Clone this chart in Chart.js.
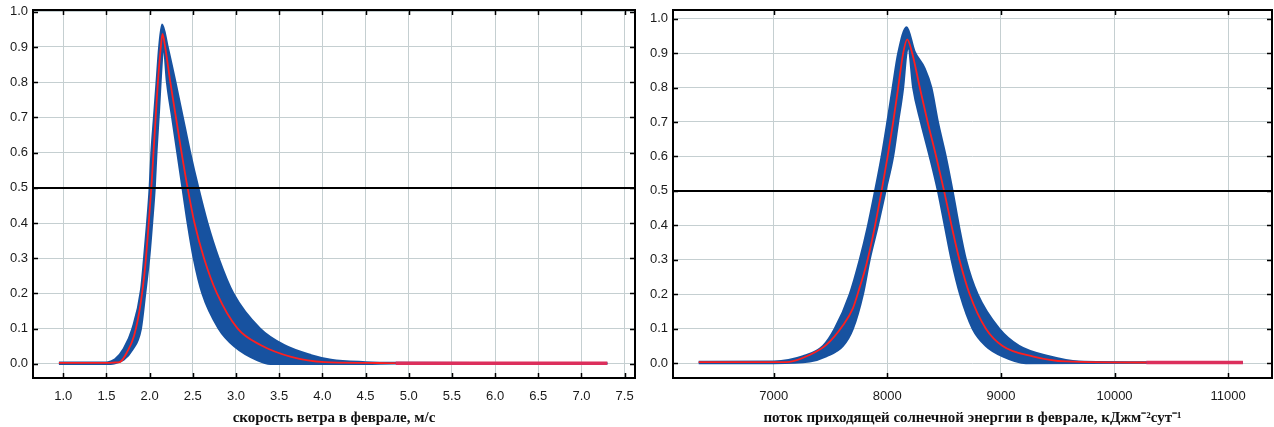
<!DOCTYPE html>
<html lang="ru">
<head>
<meta charset="utf-8">
<title>Функции принадлежности</title>
<script src="https://cdn.jsdelivr.net/npm/chart.js@4.4.1/dist/chart.umd.min.js"></script>
<style>
  html, body { margin: 0; padding: 0; background: #fff; }
  .wrap { position: absolute; top: 0; height: 427px; }
  #windWrap { left: 0; width: 640px; }
  #solarWrap { left: 640px; width: 634px; }
</style>
</head>
<body>
<div class="wrap" id="windWrap"><canvas id="windCanvas" width="640" height="427"></canvas></div>
<div class="wrap" id="solarWrap"><canvas id="solarCanvas" width="634" height="427"></canvas></div>
<script>
// скорость ветра: верхняя и нижняя граница полосы, медиана
const windUpperX = [0.95, 1.5, 1.55, 1.6, 1.7, 1.8, 1.9, 1.935, 1.97, 2.0, 2.02, 2.05, 2.08, 2.11, 2.145, 2.21, 2.3, 2.385, 2.47, 2.565, 2.67, 2.8, 2.97, 3.28, 3.56, 3.87, 4.1, 4.5, 4.85, 7.3];
const windUpperY = [0.004, 0.004, 0.007, 0.013, 0.043, 0.10, 0.21, 0.3, 0.4, 0.5, 0.6, 0.7, 0.8, 0.9, 0.964, 0.9, 0.8, 0.7, 0.6, 0.5, 0.4, 0.3, 0.2, 0.1, 0.053, 0.025, 0.012, 0.005, 0.003, 0.002];
const windLowerX = [0.95, 1.55, 1.6, 1.7, 1.8, 1.9, 1.95, 2.0, 2.03, 2.06, 2.08, 2.11, 2.14, 2.16, 2.2, 2.26, 2.32, 2.38, 2.44, 2.51, 2.61, 2.8, 2.98, 3.25, 3.4, 4.5, 4.85, 7.3];
const windLowerY = [0.0, 0.0, 0.002, 0.012, 0.04, 0.1, 0.2, 0.31, 0.4, 0.5, 0.6, 0.72, 0.85, 0.905, 0.8, 0.7, 0.6, 0.5, 0.4, 0.3, 0.2, 0.1, 0.05, 0.01, 0.0, 0.0, 0.001, 0.001];
const windMedX = [0.95, 1.5, 1.6, 1.66, 1.74, 1.82, 1.895, 1.95, 1.99, 2.02, 2.045, 2.07, 2.096, 2.13, 2.149, 2.18, 2.24, 2.305, 2.37, 2.44, 2.52, 2.63, 2.78, 3.02, 3.29, 3.64, 4.03, 4.5, 4.85, 7.3];
const windMedY = [0.003, 0.003, 0.004, 0.006, 0.034, 0.08, 0.17, 0.28, 0.4, 0.5, 0.6, 0.7, 0.8, 0.9, 0.937, 0.9, 0.8, 0.7, 0.6, 0.5, 0.4, 0.3, 0.2, 0.1, 0.053, 0.02, 0.005, 0.003, 0.002, 0.002];
const windTicks = [1.0, 1.5, 2.0, 2.5, 3.0, 3.5, 4.0, 4.5, 5.0, 5.5, 6.0, 6.5, 7.0, 7.5];

// поток солнечной энергии
const solarUpperX = [6340, 7000, 7258, 7434, 7537, 7669, 7757, 7830, 7892, 7950, 8000, 8047, 8096, 8170, 8240, 8330, 8388, 8446, 8515, 8575, 8630, 8693, 8795, 8985, 9160, 9424, 9687, 10280, 11130];
const solarUpperY = [0.004, 0.005, 0.02, 0.05, 0.1, 0.2, 0.3, 0.4, 0.5, 0.6, 0.7, 0.8, 0.9, 0.975, 0.905, 0.855, 0.8, 0.7, 0.6, 0.5, 0.4, 0.3, 0.2, 0.1, 0.05, 0.02, 0.005, 0.003, 0.002];
const solarLowerX = [6340, 7000, 7317, 7463, 7610, 7698, 7786, 7845, 7918, 7985, 8052, 8096, 8140, 8169, 8185, 8227, 8295, 8373, 8445, 8505, 8565, 8640, 8751, 8868, 9015, 9220, 10280, 11130];
const solarLowerY = [0.0, 0.0, 0.005, 0.02, 0.05, 0.1, 0.2, 0.3, 0.4, 0.5, 0.6, 0.7, 0.8, 0.9, 0.915, 0.8, 0.7, 0.6, 0.5, 0.4, 0.3, 0.2, 0.1, 0.05, 0.02, 0.0, 0.001, 0.001];
const solarMedX = [6340, 7000, 7140, 7317, 7463, 7610, 7698, 7757, 7815, 7874, 7950, 8003, 8052, 8096, 8140, 8175, 8219, 8286, 8355, 8430, 8500, 8565, 8635, 8725, 8868, 9015, 9278, 9570, 10280, 11130];
const solarMedY = [0.003, 0.003, 0.004, 0.024, 0.053, 0.11, 0.16, 0.22, 0.285, 0.37, 0.5, 0.6, 0.7, 0.8, 0.9, 0.94, 0.9, 0.8, 0.7, 0.6, 0.5, 0.4, 0.3, 0.2, 0.1, 0.05, 0.02, 0.005, 0.002, 0.002];
const solarTicks = [7000, 8000, 9000, 10000, 11000];

const yTicks = [0.0, 0.1, 0.2, 0.3, 0.4, 0.5, 0.6, 0.7, 0.8, 0.9, 1.0];
const threshold = 0.5;

const BLUE = '#1752a0';
const RED = '#ff1f1f';
const TAIL = '#dc2f5c';

const toPoints = (xs, ys) => xs.map((x, i) => ({ x: x, y: ys[i] }));

/**
 * рамка, внутренние засечки и линия 0.5
 */
const framePlugin = {
  id: 'frame',
  afterDatasetsDraw(chart) {
    const { ctx, chartArea: a } = chart;
    const sx = chart.scales.x;
    const sy = chart.scales.y;
    ctx.save();
    ctx.strokeStyle = '#000';
    ctx.lineWidth = 2;
    const yl = Math.round(sy.getPixelForValue(threshold));
    ctx.beginPath();
    ctx.moveTo(a.left, yl);
    ctx.lineTo(a.right, yl);
    ctx.stroke();
    ctx.strokeRect(a.left, a.top, a.right - a.left, a.bottom - a.top);

    ctx.lineWidth = 1.5;
    ctx.beginPath();
    for (const t of sx.ticks) {
      const px = Math.round(sx.getPixelForValue(t.value)) + 0.5;
      ctx.moveTo(px, a.bottom); ctx.lineTo(px, a.bottom - 5);
      ctx.moveTo(px, a.top); ctx.lineTo(px, a.top + 5);
    }
    for (const t of sy.ticks) {
      const py = Math.round(sy.getPixelForValue(t.value)) + 0.5;
      ctx.moveTo(a.left, py); ctx.lineTo(a.left + 5, py);
      ctx.moveTo(a.right, py); ctx.lineTo(a.right - 5, py);
    }
    ctx.stroke();
    ctx.restore();
  }
};

const makeChart = (canvas, p) => {
  const isTail = c => c.p0.parsed.x >= p.tailFrom || c.p1.parsed.x <= p.headTo;
  return new Chart(canvas.getContext('2d'), {
    type: 'line',
    data: {
      datasets: [
        {
          data: toPoints(p.upperX, p.upperY),
          borderColor: BLUE, backgroundColor: BLUE, borderWidth: 2,
          fill: '+1', order: 1
        },
        {
          data: toPoints(p.lowerX, p.lowerY),
          borderColor: BLUE, borderWidth: 2, fill: false, order: 2
        },
        {
          data: toPoints(p.medX, p.medY),
          borderColor: RED, borderWidth: 1.8, fill: false, order: 0,
          segment: {
            borderColor: c => isTail(c) ? TAIL : undefined,
            borderWidth: c => isTail(c) ? 3.5 : undefined
          }
        }
      ]
    },
    options: {
      responsive: false,
      animation: false,
      devicePixelRatio: 1,
      layout: { padding: { top: 10, right: p.padRight, left: 0, bottom: 0 } },
      elements: {
        point: { radius: 0 },
        line: { cubicInterpolationMode: 'monotone' }
      },
      plugins: { legend: { display: false }, tooltip: { enabled: false } },
      scales: {
        x: {
          type: 'linear',
          min: p.xMin, max: p.xMax,
          afterBuildTicks: s => { s.ticks = p.xTicks.map(v => ({ value: v })); },
          afterFit: s => { s.height = 49; s.paddingLeft = 0; s.paddingRight = 0; },
          border: { display: false },
          grid: { color: '#c5cfd1', lineWidth: 1, drawTicks: false },
          ticks: {
            padding: 11, autoSkip: false, maxRotation: 0,
            color: '#1a1a1a', font: { family: 'Liberation Sans', size: 13 },
            callback: v => p.xFormat(v)
          },
          title: {
            display: true, text: p.xTitle, color: '#111',
            font: { family: 'Liberation Serif', size: 15, weight: 'bold' },
            padding: { top: 0, bottom: 0 }
          }
        },
        y: {
          min: p.yMin, max: p.yMax,
          afterBuildTicks: s => { s.ticks = yTicks.map(v => ({ value: v })); },
          afterFit: s => { s.width = 33; s.paddingTop = 0; s.paddingBottom = 0; },
          border: { display: false },
          grid: { color: '#c5cfd1', lineWidth: 1, drawTicks: false },
          ticks: {
            padding: 5, autoSkip: false,
            color: '#1a1a1a', font: { family: 'Liberation Sans', size: 13 },
            callback: v => v.toFixed(1)
          }
        }
      }
    },
    plugins: [framePlugin]
  });
};

makeChart(document.getElementById('windCanvas'), {
  upperX: windUpperX, upperY: windUpperY,
  lowerX: windLowerX, lowerY: windLowerY,
  medX: windMedX, medY: windMedY, xTicks: windTicks,
  xMin: 0.65, xMax: 7.62, yMin: -0.04, yMax: 1.005,
  xFormat: v => v.toFixed(1),
  xTitle: 'скорость ветра в феврале, м/с',
  tailFrom: 4.85, headTo: -Infinity, padRight: 5
});

makeChart(document.getElementById('solarCanvas'), {
  upperX: solarUpperX, upperY: solarUpperY,
  lowerX: solarLowerX, lowerY: solarLowerY,
  medX: solarMedX, medY: solarMedY, xTicks: solarTicks,
  xMin: 6114, xMax: 11386, yMin: -0.043, yMax: 1.025,
  xFormat: v => String(v),
  xTitle: 'поток приходящей солнечной энергии в феврале, кДжм⁻²сут⁻¹',
  tailFrom: 10280, headTo: 6830, padRight: 2
});
</script>
</body>
</html>
